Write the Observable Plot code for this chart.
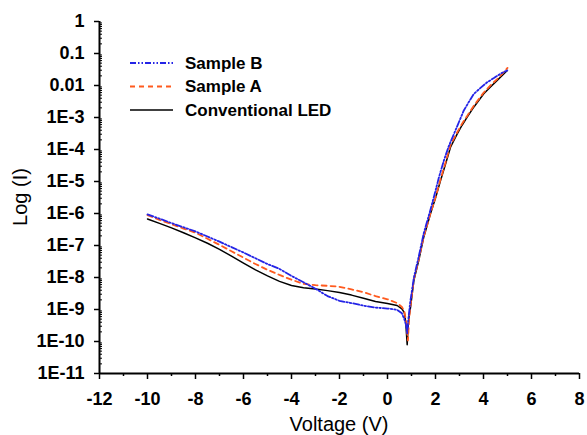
<!DOCTYPE html>
<html><head><meta charset="utf-8">
<script src="https://cdn.jsdelivr.net/npm/d3@7"></script>
<script src="https://cdn.jsdelivr.net/npm/@observablehq/plot@0.6"></script>
<style>body{margin:0;background:#fff}#chart{width:587px;height:435px}</style>
</head><body><div id="chart"></div><script>
// Series names
const seriesNames = ["Sample B", "Sample A", "Conventional LED"];

// Voltage (V) and log10(I)
const voltsB = [-10,-9.5,-9,-8.5,-8,-7.5,-7,-6.5,-6,-5.5,-5,-4.5,-4,-3.5,-3,-2.5,-2,-1.5,-1,-0.5,0,0.4,0.6,0.7,0.78,0.82,0.87,0.95,1.1,1.3,1.51,1.79,1.93,2.15,2.35,2.55,2.77,3.0,3.18,3.4,3.6,3.9,4.15,4.45,4.71,4.99];
const logIB  = [-6.03,-6.16,-6.3,-6.43,-6.56,-6.72,-6.88,-7.05,-7.22,-7.4,-7.58,-7.73,-7.95,-8.15,-8.35,-8.58,-8.73,-8.8,-8.88,-8.94,-8.97,-9.01,-9.12,-9.3,-9.5,-9.75,-9.3,-8.75,-8.0,-7.35,-6.62,-5.88,-5.49,-4.85,-4.34,-3.9,-3.51,-3.1,-2.78,-2.5,-2.26,-2.06,-1.9,-1.76,-1.63,-1.53];

const voltsA = [-10,-9.5,-9,-8.5,-8,-7.5,-7,-6.5,-6,-5.5,-5,-4.5,-4,-3.5,-3,-2.5,-2,-1.5,-1,-0.5,0,0.4,0.6,0.7,0.78,0.85,0.9,0.96,1.1,1.3,1.51,1.79,2.0,2.21,2.4,2.625,2.9,3.1,3.32,3.6,4.01,4.3,4.57,4.8,5.0];
const logIA  = [-6.05,-6.2,-6.33,-6.47,-6.6,-6.79,-6.98,-7.18,-7.38,-7.58,-7.76,-7.92,-8.07,-8.2,-8.24,-8.26,-8.29,-8.37,-8.46,-8.58,-8.68,-8.8,-8.92,-9.05,-9.4,-9.97,-9.3,-8.88,-8.05,-7.45,-6.72,-6.0,-5.5,-4.93,-4.45,-3.86,-3.47,-3.2,-2.95,-2.63,-2.22,-1.99,-1.8,-1.62,-1.45];

const voltsC = [-10,-9.5,-9,-8.5,-8,-7.5,-7,-6.5,-6,-5.5,-5,-4.5,-4,-3.5,-3,-2.5,-2,-1.5,-1,-0.5,0,0.4,0.6,0.7,0.76,0.82,0.86,0.9,0.96,1.1,1.3,1.51,1.79,2.0,2.21,2.4,2.625,2.9,3.1,3.32,3.6,4.01,4.3,4.57,4.8,4.99];
const logIC  = [-6.17,-6.31,-6.45,-6.6,-6.76,-6.93,-7.12,-7.33,-7.55,-7.76,-7.95,-8.12,-8.25,-8.32,-8.36,-8.41,-8.47,-8.55,-8.65,-8.75,-8.81,-8.875,-8.98,-9.1,-9.4,-10.1,-9.5,-9.2,-8.93,-8.09,-7.47,-6.74,-6.01,-5.52,-4.97,-4.5,-3.93,-3.52,-3.25,-2.99,-2.67,-2.26,-2.04,-1.84,-1.67,-1.53];

// Axis ticks
const xTicks = [-12,-10,-8,-6,-4,-2,0,2,4,6,8];
const xTickLabels = ["-12","-10","-8","-6","-4","-2","0","2","4","6","8"];
const xMinorTicks = [-11,-9,-7,-5,-3,-1,1,3,5,7];
const yTicks = [-11,-10,-9,-8,-7,-6,-5,-4,-3,-2,-1,0];
const yTickLabels = ["1E-11","1E-10","1E-9","1E-8","1E-7","1E-6","1E-5","1E-4","1E-3","0.01","0.1","1"];
const yMinorTicks = [];
for (let k = -11; k < 0; k++) for (let m = 2; m <= 9; m++) yMinorTicks.push(k + Math.log10(m));

const colors = {"Sample B": "#2424e6", "Sample A": "#ff5a1e", "Conventional LED": "#000000"};
const dashes = {"Sample B": "6,2,1.5,2,1.5,2", "Sample A": "5,4", "Conventional LED": null};
const widths = {"Sample B": 1.8, "Sample A": 1.8, "Conventional LED": 1.5};

const mk = (name, vs, ls) => vs.map((v, i) => ({series: name, V: v, L: ls[i]}));
const dataB = mk("Sample B", voltsB, logIB);
const dataA = mk("Sample A", voltsA, logIA);
const dataC = mk("Conventional LED", voltsC, logIC);

const font = "'Liberation Sans', Arial, sans-serif";
const lineMark = (d, name) => Plot.line(d, {x: "V", y: "L", stroke: colors[name], strokeWidth: widths[name], strokeDasharray: dashes[name] || undefined});

const plot = Plot.plot({
  width: 587, height: 435,
  marginLeft: 99, marginRight: 8, marginTop: 21, marginBottom: 62,
  style: {fontFamily: font, background: "#fff", color: "#000", overflow: "visible"},
  x: {domain: [-12, 8]},
  y: {domain: [-11, 0]},
  marks: [
    Plot.axisY({ticks: yTicks, tickFormat: d => yTickLabels[yTicks.indexOf(d)], tickSize: 5, tickPadding: 10, label: null, fontSize: 18, fontWeight: "bold", strokeWidth: 1.5}),
    Plot.axisY({ticks: yMinorTicks, tickSize: -3, tickFormat: () => "", label: null, strokeWidth: 1}),
    Plot.axisX({ticks: xTicks, tickFormat: d => xTickLabels[xTicks.indexOf(d)], tickSize: 6, tickPadding: 13, label: null, fontSize: 18, fontWeight: "bold", strokeWidth: 1.5}),
    Plot.axisX({ticks: xMinorTicks, tickSize: 3, tickFormat: () => "", label: null, strokeWidth: 1.5}),
    Plot.ruleX([-12], {strokeWidth: 2}),
    Plot.ruleY([-11], {strokeWidth: 2}),
    lineMark(dataC, "Conventional LED"),
    lineMark(dataA, "Sample A"),
    lineMark(dataB, "Sample B")
  ]
});
document.getElementById("chart").appendChild(plot);

// Axis titles and legend added into the SVG
const svg = d3.select(plot);
svg.append("text").attr("x", 339).attr("y", 431).attr("text-anchor", "middle")
  .attr("font-family", font).attr("font-size", 20).attr("fill", "#000").text("Voltage (V)");
svg.append("text").attr("transform", "translate(27,197) rotate(-90)").attr("text-anchor", "middle")
  .attr("font-family", font).attr("font-size", 20).attr("fill", "#000").text("Log (I)");

const leg = svg.append("g");
seriesNames.forEach((name, i) => {
  const y = 63 + i * 23.5;
  leg.append("line").attr("x1", 130).attr("x2", 173).attr("y1", y).attr("y2", y)
    .attr("stroke", colors[name]).attr("stroke-width", widths[name])
    .attr("stroke-dasharray", dashes[name]);
  leg.append("text").attr("x", 185).attr("y", y).attr("dy", "0.35em").attr("text-anchor", "start")
    .attr("font-family", font).attr("font-size", 17).attr("font-weight", "bold").attr("fill", "#000").text(name);
});
</script></body></html>
